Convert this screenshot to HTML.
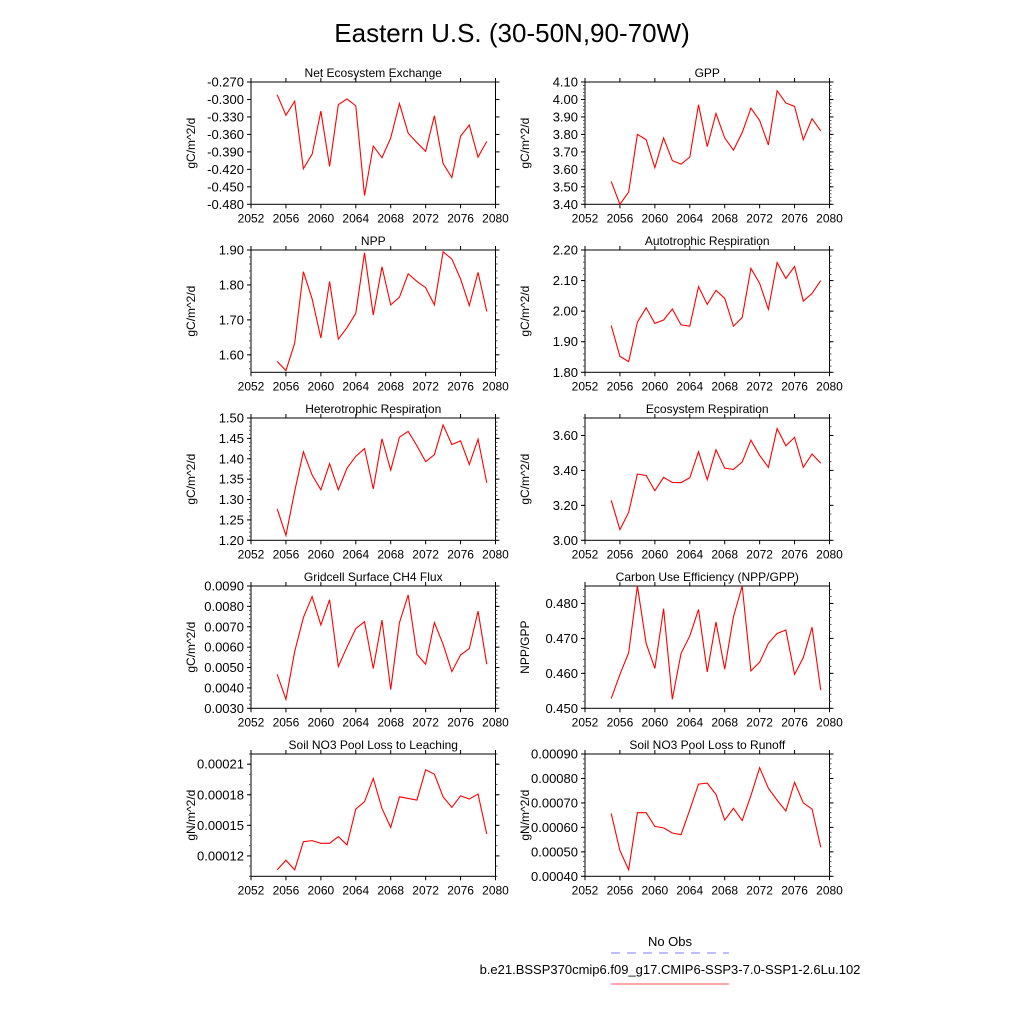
<!DOCTYPE html>
<html><head><meta charset="utf-8"><style>
html,body{margin:0;padding:0;background:#fff;}
svg{display:block;font-family:"Liberation Sans",Arial,sans-serif;}
</style></head><body>
<svg id="fig" width="1024" height="1024" viewBox="0 0 1024 1024" xmlns="http://www.w3.org/2000/svg">
<text x="512" y="42" text-anchor="middle" font-size="26">Eastern U.S. (30-50N,90-70W)</text>
<g>
<text x="670" y="946" text-anchor="middle" font-size="13">No Obs</text>
<line x1="611" y1="953" x2="729" y2="953" stroke="#7b7bff" stroke-width="1" stroke-dasharray="9,7"/>
<text x="670" y="974" text-anchor="middle" font-size="13">b.e21.BSSP370cmip6.f09_g17.CMIP6-SSP3-7.0-SSP1-2.6Lu.102</text>
<line x1="611" y1="984" x2="729" y2="984" stroke="#ff5555" stroke-width="1"/>
</g>
</svg>
<script>
const years = [2055,2056,2057,2058,2059,2060,2061,2062,2063,2064,2065,2066,2067,2068,2069,2070,2071,2072,2073,2074,2075,2076,2077,2078,2079];
const xTicks = [2052,2056,2060,2064,2068,2072,2076,2080];
const neeValues = [-0.292,-0.327,-0.303,-0.419,-0.394,-0.320,-0.415,-0.309,-0.299,-0.311,-0.465,-0.380,-0.400,-0.366,-0.307,-0.358,-0.374,-0.389,-0.328,-0.410,-0.434,-0.363,-0.344,-0.399,-0.372];
const gppValues = [3.53,3.40,3.47,3.80,3.77,3.61,3.78,3.65,3.63,3.67,3.97,3.73,3.92,3.78,3.71,3.81,3.95,3.88,3.74,4.05,3.98,3.96,3.77,3.89,3.82];
const nppValues = [1.581,1.555,1.633,1.838,1.760,1.648,1.810,1.645,1.678,1.719,1.892,1.714,1.852,1.743,1.765,1.832,1.810,1.792,1.743,1.895,1.874,1.817,1.741,1.836,1.724];
const arValues = [1.953,1.852,1.835,1.964,2.011,1.960,1.971,2.007,1.955,1.951,2.080,2.022,2.068,2.042,1.951,1.979,2.140,2.091,2.006,2.159,2.107,2.146,2.033,2.058,2.100];
const hrValues = [1.277,1.212,1.320,1.417,1.360,1.324,1.388,1.324,1.377,1.406,1.425,1.326,1.449,1.372,1.453,1.467,1.432,1.393,1.410,1.483,1.435,1.444,1.386,1.448,1.341];
const erValues = [3.229,3.061,3.160,3.379,3.371,3.284,3.360,3.331,3.330,3.358,3.507,3.347,3.518,3.413,3.406,3.448,3.573,3.486,3.418,3.640,3.541,3.589,3.418,3.494,3.441];
const ch4Values = [0.00467,0.00344,0.00578,0.00745,0.00848,0.00709,0.00833,0.00505,0.00601,0.00691,0.00725,0.00495,0.00733,0.00392,0.00720,0.00856,0.00565,0.00516,0.00720,0.00614,0.00480,0.00562,0.00593,0.00777,0.00516];
const cueValues = [0.4528,0.4597,0.4659,0.4850,0.4686,0.4614,0.4785,0.4526,0.4657,0.4707,0.4783,0.4604,0.4747,0.4612,0.4762,0.4850,0.4607,0.4632,0.4686,0.4714,0.4724,0.4597,0.4645,0.4732,0.4552];
const leachValues = [0.0001063,0.0001158,0.0001063,0.0001340,0.0001350,0.0001324,0.0001324,0.0001389,0.0001308,0.0001660,0.0001732,0.0001960,0.0001666,0.0001480,0.0001780,0.0001764,0.0001748,0.0002045,0.0002002,0.0001780,0.0001676,0.0001790,0.0001758,0.0001807,0.0001415];
const runoffValues = [0.000657,0.000505,0.000427,0.000660,0.000660,0.000604,0.000598,0.000577,0.000570,0.000672,0.000777,0.000781,0.000735,0.000630,0.000678,0.000628,0.000730,0.000844,0.000760,0.000711,0.000667,0.000784,0.000700,0.000675,0.000519];
const neeTicks = [-0.270,-0.300,-0.330,-0.360,-0.390,-0.420,-0.450,-0.480];
const gppTicks = [3.40,3.50,3.60,3.70,3.80,3.90,4.00,4.10];
const nppTicks = [1.60,1.70,1.80,1.90];
const arTicks = [1.80,1.90,2.00,2.10,2.20];
const hrTicks = [1.20,1.25,1.30,1.35,1.40,1.45,1.50];
const erTicks = [3.00,3.20,3.40,3.60];
const ch4Ticks = [0.003,0.004,0.005,0.006,0.007,0.008,0.009];
const cueTicks = [0.450,0.460,0.470,0.480];
const leachTicks = [0.00012,0.00015,0.00018,0.00021];
const runoffTicks = [0.0004,0.0005,0.0006,0.0007,0.0008,0.0009];

const panels = [
 {name:'nee',title:'Net Ecosystem Exchange',unit:'gC/m^2/d',vals:neeValues,ticks:neeTicks,min:-0.480,max:-0.270,dec:3,col:0,row:0,minor:3},
 {name:'gpp',title:'GPP',unit:'gC/m^2/d',vals:gppValues,ticks:gppTicks,min:3.40,max:4.10,dec:2,col:1,row:0,minor:5},
 {name:'npp',title:'NPP',unit:'gC/m^2/d',vals:nppValues,ticks:nppTicks,min:1.55,max:1.90,dec:2,col:0,row:1,minor:5},
 {name:'autotrophic-respiration',title:'Autotrophic Respiration',unit:'gC/m^2/d',vals:arValues,ticks:arTicks,min:1.80,max:2.20,dec:2,col:1,row:1,minor:5},
 {name:'heterotrophic-respiration',title:'Heterotrophic Respiration',unit:'gC/m^2/d',vals:hrValues,ticks:hrTicks,min:1.20,max:1.50,dec:2,col:0,row:2,minor:5},
 {name:'ecosystem-respiration',title:'Ecosystem Respiration',unit:'gC/m^2/d',vals:erValues,ticks:erTicks,min:3.00,max:3.70,dec:2,col:1,row:2,minor:4},
 {name:'ch4-flux',title:'Gridcell Surface CH4 Flux',unit:'gC/m^2/d',vals:ch4Values,ticks:ch4Ticks,min:0.003,max:0.009,dec:4,col:0,row:3,minor:5},
 {name:'carbon-use-efficiency',title:'Carbon Use Efficiency (NPP/GPP)',unit:'NPP/GPP',vals:cueValues,ticks:cueTicks,min:0.450,max:0.485,dec:3,col:1,row:3,minor:5},
 {name:'no3-leaching',title:'Soil NO3 Pool Loss to Leaching',unit:'gN/m^2/d',vals:leachValues,ticks:leachTicks,min:0.000100,max:0.000220,dec:5,col:0,row:4,minor:3},
 {name:'no3-runoff',title:'Soil NO3 Pool Loss to Runoff',unit:'gN/m^2/d',vals:runoffValues,ticks:runoffTicks,min:0.0004,max:0.0009,dec:5,col:1,row:4,minor:5}
];
const NS='http://www.w3.org/2000/svg';
const svg=document.getElementById('fig');
function mk(tag,attrs,parent){const e=document.createElementNS(NS,tag);for(const k in attrs)e.setAttribute(k,attrs[k]);parent.appendChild(e);return e;}
const colX=[251,585], plotW=244.5, rowY=[82,250,418,586,754], plotH=122.3;
panels.forEach(p=>{
  const L=colX[p.col], T=rowY[p.row], R=L+plotW, B=T+plotH;
  const xs=v=>L+(v-2052)/28*plotW;
  const ys=v=>B-(v-p.min)/(p.max-p.min)*plotH;
  const g=mk('g',{},svg);
  
  
  const t=mk('text',{x:(L+R)/2,y:T-5,'text-anchor':'middle','font-size':12},g);
  t.textContent=p.title;
  
  
  const yt=mk('text',{x:0,y:0,'text-anchor':'middle','font-size':12,transform:`translate(${L-56},${(T+B)/2}) rotate(-90)`},g);
  yt.textContent=p.unit;
  
  
  const fr=mk('rect',{x:L,y:T,width:plotW,height:plotH,fill:'none',stroke:'#000','stroke-width':1},g);
  
  
  // y ticks
  const step=p.ticks[1]-p.ticks[0];
  const mstep=step/p.minor;
  for(let v=p.ticks[0]-step*3; v<=p.max+1e-12; v+=mstep){
    if(v<p.min-1e-12) continue;
    const y=ys(v);
    mk('line',{x1:L-2,y1:y,x2:L,y2:y,stroke:'#555','stroke-width':1},g);
    mk('line',{x1:R,y1:y,x2:R+2,y2:y,stroke:'#555','stroke-width':1},g);
  }
  p.ticks.forEach(v=>{
    const y=ys(v);
    mk('line',{x1:L-4,y1:y,x2:L,y2:y,stroke:'#000','stroke-width':1},g);
    mk('line',{x1:R,y1:y,x2:R+4,y2:y,stroke:'#000','stroke-width':1},g);
    const lb=mk('text',{x:L-7,y:y+4.5,'text-anchor':'end','font-size':13},g);
    lb.textContent=v.toFixed(p.dec);
    
    
  });
  xTicks.forEach(v=>{
    const x=xs(v);
    mk('line',{x1:x,y1:B,x2:x,y2:B+4,stroke:'#000','stroke-width':1},g);
    mk('line',{x1:x,y1:T-4,x2:x,y2:T,stroke:'#000','stroke-width':1},g);
    const lb=mk('text',{x:x,y:B+18,'text-anchor':'middle','font-size':12},g);
    lb.textContent=String(v);
    
    
  });
  const pts=years.map((yr,i)=>xs(yr).toFixed(2)+','+ys(p.vals[i]).toFixed(2)).join(' ');
  const ln=mk('polyline',{points:pts,fill:'none',stroke:'#ff0000','stroke-width':1.1},g);
  
  
});
</script>
</body></html>
